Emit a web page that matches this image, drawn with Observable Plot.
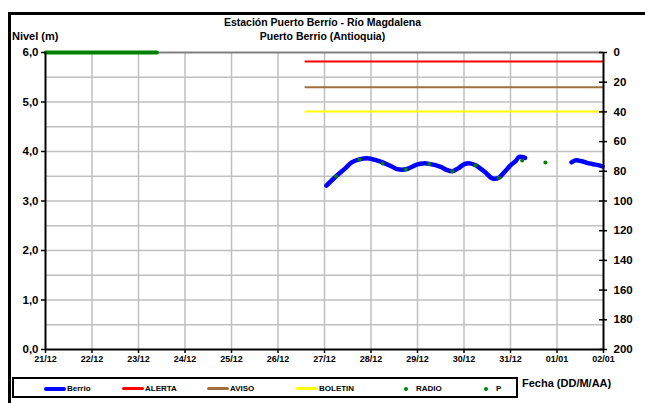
<!DOCTYPE html>
<html>
<head>
<meta charset="utf-8">
<script src="https://cdn.jsdelivr.net/npm/d3@7"></script>
<script src="https://cdn.jsdelivr.net/npm/@observablehq/plot@0.6"></script>
<style>
  html, body { margin:0; padding:0; background:#fff; }
  #wrap { position:relative; width:645px; height:403px; overflow:hidden; font-family:"Liberation Sans", Arial, sans-serif; font-weight:bold; color:#000; }
  #frame { position:absolute; left:8px; top:12px; width:700px; height:500px; border:3px solid #000; box-sizing:border-box; }
  .t { position:absolute; white-space:nowrap; }
  #legend { position:absolute; left:12px; top:377px; width:506px; height:21px; border:2px solid #000; box-sizing:border-box; font-size:8px; }
  .li { position:absolute; top:5px; }
  .sw { display:inline-block; width:22px; height:0; vertical-align:middle; margin-right:1px; }
  .dt { display:inline-block; width:4px; height:4px; border-radius:2px; background:#008000; vertical-align:middle; margin-right:8px; }
  #chart { position:absolute; left:0; top:0; }
</style>
</head>
<body>
<div id="wrap">
  <div id="frame"></div>
  <div id="chart"></div>
  <div class="t" style="left:0;width:645px;text-align:center;top:16px;font-size:10.5px;padding-left:0">Estación Puerto Berrío - Río Magdalena</div>
  <div class="t" style="left:0;width:645px;text-align:center;top:30px;font-size:10.5px;">Puerto Berrio (Antioquia)</div>
  <div class="t" style="left:12px;top:30px;font-size:11px;">Nivel (m)</div>
  <div class="t" style="left:522px;top:377px;font-size:11px;">Fecha (DD/M/AA)</div>
  <div id="legend"></div>
</div>
<script>
// ---- data ----
const xTickLabels = ["21/12","22/12","23/12","24/12","25/12","26/12","27/12","28/12","29/12","30/12","31/12","01/01","02/01"];
const xTickDates  = ["2023-12-21","2023-12-22","2023-12-23","2023-12-24","2023-12-25","2023-12-26","2023-12-27","2023-12-28","2023-12-29","2023-12-30","2023-12-31","2024-01-01","2024-01-02"];
const leftTicks  = [0, 1, 2, 3, 4, 5, 6];
const gridLevels = [0.5, 1, 1.5, 2, 2.5, 3, 3.5, 4, 4.5, 5, 5.5];
const rightTicks = [0, 20, 40, 60, 80, 100, 120, 140, 160, 180, 200];

const berrioTime = [
  "2023-12-27T01:00","2023-12-27T06:00","2023-12-27T11:00","2023-12-27T14:00","2023-12-27T18:00","2023-12-27T23:00",
  "2023-12-28T03:00","2023-12-28T06:00","2023-12-28T11:00","2023-12-28T13:00","2023-12-28T18:00",
  "2023-12-29T00:00","2023-12-29T03:00","2023-12-29T06:00","2023-12-29T12:00","2023-12-29T15:00","2023-12-29T18:00","2023-12-29T21:00",
  "2023-12-30T00:00","2023-12-30T03:00","2023-12-30T06:00","2023-12-30T09:00","2023-12-30T11:00","2023-12-30T14:00","2023-12-30T15:30","2023-12-30T18:00","2023-12-30T21:00",
  "2023-12-31T00:00","2023-12-31T02:30","2023-12-31T04:30","2023-12-31T07:30",
  "2023-12-31T18:00",
  "2024-01-01T07:30","2024-01-01T09:30","2024-01-01T11:00","2024-01-01T14:00","2024-01-01T16:30","2024-01-01T20:30","2024-01-01T23:30"
];
const berrioLevel = [
  3.31,3.50,3.67,3.78,3.84,3.86,
  3.82,3.78,3.69,3.65,3.64,
  3.74,3.76,3.75,3.69,3.63,3.60,3.66,
  3.74,3.76,3.72,3.64,3.58,3.47,3.45,3.47,3.59,
  3.72,3.80,3.89,3.87,
  null,
  3.78,3.82,3.82,3.79,3.76,3.73,3.70
];
const radioTime  = ["2023-12-27T06:00","2023-12-27T18:00","2023-12-28T06:00","2023-12-28T18:00","2023-12-29T06:00","2023-12-29T18:00","2023-12-30T06:00","2023-12-30T18:00","2023-12-31T06:00","2023-12-31T18:00"];
const radioLevel = [3.50, 3.84, 3.76, 3.64, 3.75, 3.60, 3.72, 3.47, 3.82, 3.78];
const pTime  = ["2023-12-21T00:00","2023-12-23T09:30"];
const pLevel = [6.0, 6.0];

const thresholdNames  = ["ALERTA","AVISO","BOLETIN"];
const thresholdLevels = [5.82, 5.30, 4.81];
const thresholdColors = ["#ff0000","#a0703c","#ffff00"];
const thresholdStart  = "2023-12-26T14:00";

// ---- build ----
const pt = d3.utcParse("%Y-%m-%dT%H:%M");
const pd = d3.utcParse("%Y-%m-%d");
const berrio = berrioTime.map((t,i)=>({t:pt(t), v:berrioLevel[i]}));
const radio  = radioTime.map((t,i)=>({t:pt(t), v:radioLevel[i]}));
const pser   = pTime.map((t,i)=>({t:pt(t), v:pLevel[i]}));
const days   = xTickDates.map(pd);
const x0 = days[0], x1 = days[days.length-1];
const thresholds = thresholdNames.map((n,i)=>({n, v:thresholdLevels[i], c:thresholdColors[i], a:pt(thresholdStart), b:x1}));
const rightPos = rightTicks.map(v => 6 - v*6/200);
const labelOf = new Map(days.map((d,i)=>[+d, xTickLabels[i]]));

const chart = Plot.plot({
  width:645, height:403,
  marginLeft:45, marginRight:42, marginTop:52, marginBottom:54,
  style:{fontFamily:"'Liberation Sans', Arial, sans-serif", background:"transparent", overflow:"visible"},
  x:{type:"utc", domain:[x0,x1]},
  y:{domain:[0,6]},
  marks:[
    Plot.ruleX(days.slice(1,-1), {stroke:"#c0c0c0", strokeWidth:1.5}),
    Plot.ruleY(gridLevels, {stroke:"#c0c0c0", strokeWidth:1.5}),
    Plot.ruleY([6], {stroke:"#808080", strokeWidth:2}),
    Plot.ruleY(thresholds, {y:"v", x1:"a", x2:"b", stroke:"c", strokeWidth:2}),
    Plot.line(berrio, {x:"t", y:"v", stroke:"#0000ff", strokeWidth:4.5, curve:"catmull-rom"}),
    Plot.dot(radio, {x:"t", y:"v", fill:"#008000", r:2}),
    Plot.line(pser, {x:"t", y:"v", stroke:"#008000", strokeWidth:4}),
    Plot.ruleX([x0], {stroke:"#000", strokeWidth:2}),
    Plot.ruleX([x1], {stroke:"#000", strokeWidth:2}),
    Plot.ruleY([0], {stroke:"#000", strokeWidth:2}),
    Plot.axisY(leftTicks, {anchor:"left", tickSize:4, tickPadding:3, stroke:"#000", strokeWidth:1.5,
      tickFormat:d=>d.toFixed(1).replace(".",","), fontSize:11.5, fontWeight:"bold", label:null}),
    Plot.ruleY(rightPos, {x1:x1, x2:x1, insetLeft:-4, insetRight:-4, stroke:"#000", strokeWidth:1.5}),
    Plot.axisY(rightPos, {anchor:"right", tickSize:0, tickPadding:10,
      tickFormat:d=>String(Math.round((6-d)*200/6)), fontSize:11.5, fontWeight:"bold", label:null}),
    Plot.axisX(days, {anchor:"bottom", tickSize:4, tickPadding:2, stroke:"#000", strokeWidth:1.5,
      tickFormat:d=>labelOf.get(+d), fontSize:9, fontWeight:"bold", label:null})
  ]
});
document.getElementById("chart").appendChild(chart);

// legend
const leg = document.getElementById("legend");
const items = [
  {name:"Berrio", kind:"line", color:"#0000ff", w:4, x:30},
  {name:"ALERTA", kind:"line", color:"#ff0000", w:3, x:108},
  {name:"AVISO", kind:"line", color:"#a0703c", w:3, x:193},
  {name:"BOLETIN", kind:"line", color:"#ffff00", w:3, x:282},
  {name:"RADIO", kind:"dot", color:"#008000", x:390},
  {name:"P", kind:"dot", color:"#008000", x:470}
];
items.forEach(it=>{
  const s = document.createElement("div");
  s.className = "li"; s.style.left = it.x + "px";
  if (it.kind === "line") {
    s.innerHTML = `<span class="sw" style="border-top:${it.w}px solid ${it.color};border-radius:2px"></span>${it.name}`;
  } else {
    s.innerHTML = `<span class="dt"></span>${it.name}`;
  }
  leg.appendChild(s);
});
</script>
</body>
</html>
